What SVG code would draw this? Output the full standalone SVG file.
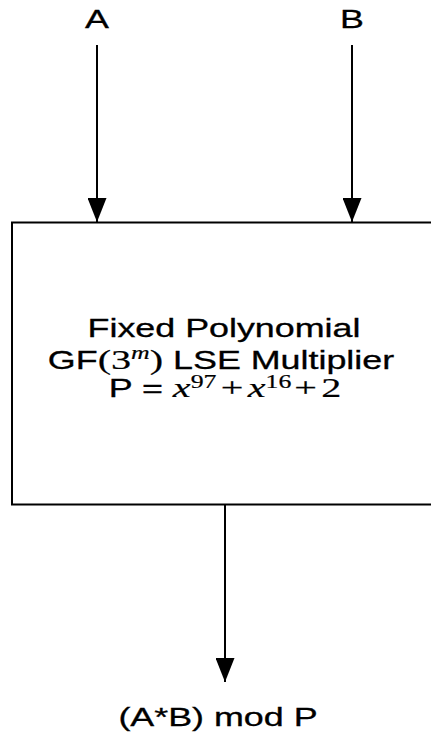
<svg xmlns="http://www.w3.org/2000/svg" width="431" height="737" viewBox="0 0 431 737">
<style>
.ln{stroke:#000;stroke-width:2;fill:none}
.sans{font-family:"Liberation Sans",Arial,sans-serif;font-size:25px;fill:#000;stroke:#000;stroke-width:0.3}
.ser{font-family:"Liberation Serif","Times New Roman",serif;stroke-width:0.2}
.it{font-style:italic}
</style>
<defs>
<marker id="ah" markerUnits="userSpaceOnUse" markerWidth="24" markerHeight="19" viewBox="0 0 24 19" refX="24" refY="9.5" orient="auto">
<path d="M0,0 L24,9.5 L0,19 z" fill="#000"/>
</marker>
</defs>
<rect width="431" height="737" fill="#fff"/>
<g id="connectors">
<line class="ln" x1="97" y1="45" x2="97" y2="222" marker-end="url(#ah)"/>
<line class="ln" x1="352" y1="45" x2="352" y2="222" marker-end="url(#ah)"/>
<line class="ln" x1="225" y1="504" x2="225" y2="682" marker-end="url(#ah)"/>
</g>
<g id="inA">
<text class="sans" text-anchor="middle" transform="translate(97,28) scale(1.434,1)">A</text>
</g>
<g id="inB">
<text class="sans" text-anchor="middle" transform="translate(352,28) scale(1.434,1)">B</text>
</g>
<g id="multiplier">
<rect class="ln" x="12" y="222.5" width="430" height="282"/>
<text class="sans" text-anchor="middle" transform="translate(224,337) scale(1.434,1)">Fixed Polynomial</text>
<text class="sans" text-anchor="middle" transform="translate(221,369) scale(1.434,1)">GF<tspan class="ser" font-size="28">(3</tspan><tspan class="ser it" font-size="18" dy="-10">m</tspan><tspan class="ser" font-size="28" dy="10">)</tspan> LSE Multiplier</text>
<text class="sans" text-anchor="middle" transform="translate(225,397) scale(1.434,1)">P = <tspan class="ser it" font-size="28">x</tspan><tspan class="ser" font-size="18" dy="-9">97</tspan><tspan class="ser" font-size="28" dy="9" dx="3">+</tspan><tspan class="ser it" font-size="28" dx="3">x</tspan><tspan class="ser" font-size="18" dy="-9">16</tspan><tspan class="ser" font-size="28" dy="9" dx="2">+</tspan><tspan class="ser" font-size="28" dx="3">2</tspan></text>
</g>
<g id="output">
<text class="sans" text-anchor="middle" transform="translate(218,726) scale(1.434,1)">(A*B) mod P</text>
</g>
</svg>
